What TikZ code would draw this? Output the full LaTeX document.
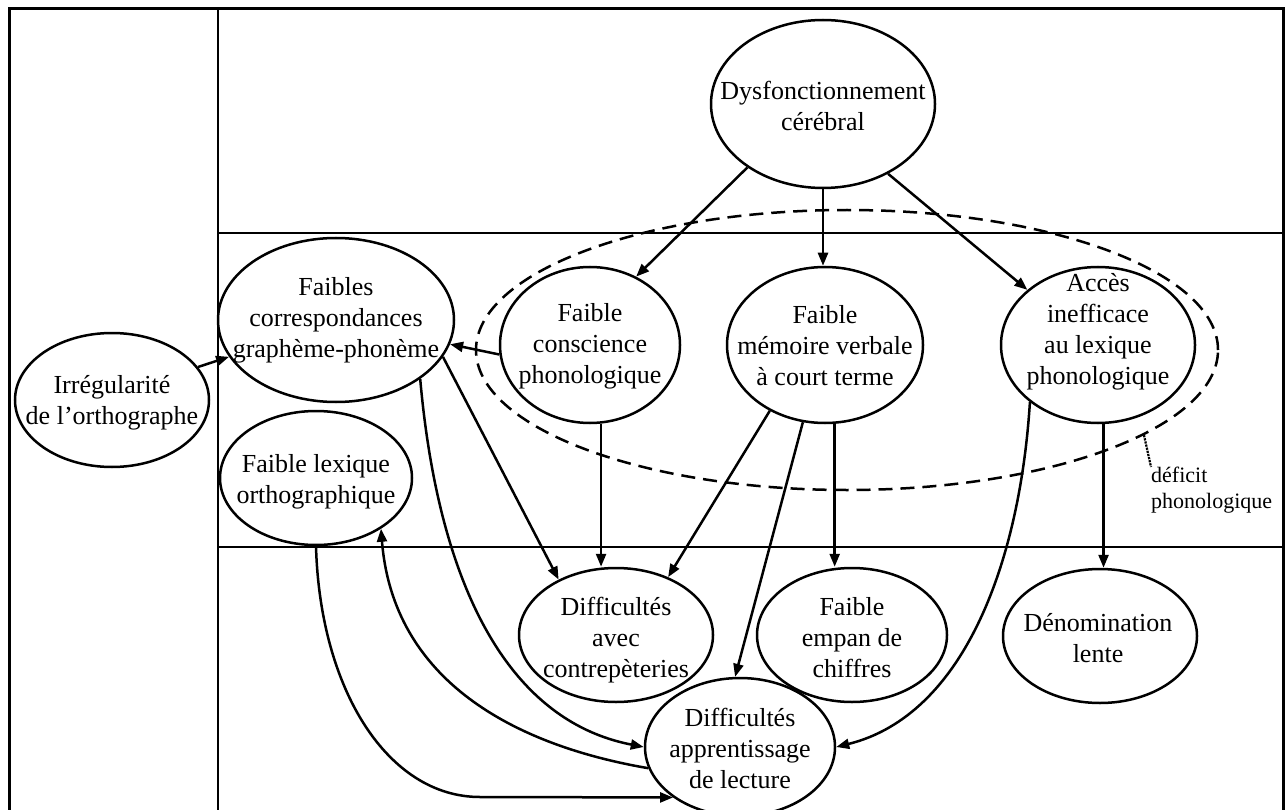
\documentclass[tikz,border=0pt]{standalone}
\usepackage{fontspec}
\setmainfont{Liberation Serif}
\usetikzlibrary{arrows.meta,shapes.geometric}
\begin{document}
\begin{tikzpicture}[x=1pt,y=-1pt,
  ell/.style={draw, ellipse, line width=2.5pt, inner sep=0pt},
  lbl/.style={align=center, font=\fontsize{26}{31}\selectfont, inner sep=0pt},
  arr/.style={line width=2.5pt, -{Triangle[length=13pt,width=10pt]}},
  frame/.style={line width=2.2pt}]
\useasboundingbox (0,0) rectangle (1287,810);

% frame and bands
\draw[line width=3pt] (9,812) -- (9,9) -- (1283,9) -- (1283,812);
\draw[frame] (218,9) -- (218,812);
\draw[frame] (218,233) -- (1283,233);
\draw[frame] (218,547) -- (1283,547);

% bubbles
\node[ell, minimum width=224pt, minimum height=168pt] (dys) at (823,104) {};
\node[lbl] at (823,106) {Dysfonctionnement\\cérébral};

\node[ell, minimum width=194pt, minimum height=134pt] (irr) at (112,400) {};
\node[lbl] at (112,403) {Irrégularité\\de l’orthographe};

\node[ell, minimum width=236pt, minimum height=164pt] (cor) at (336,320) {};
\node[lbl] at (336,320) {Faibles\\correspondances\\graphème-phonème};

\node[ell, minimum width=192pt, minimum height=134pt] (lex) at (316,478) {};
\node[lbl] at (316,482) {Faible lexique\\orthographique};

\node[ell, minimum width=180pt, minimum height=156pt] (con) at (590,345) {};
\node[lbl] at (590,346) {Faible\\conscience\\phonologique};

\node[ell, minimum width=196pt, minimum height=156pt] (mem) at (825,345) {};
\node[lbl] at (825,346) {Faible\\mémoire verbale\\à court terme};

\node[ell, minimum width=194pt, minimum height=156pt] (acc) at (1098,345) {};
\node[lbl] at (1098,332) {Accès\\inefficace\\au lexique\\phonologique};

\node[ell, minimum width=194pt, minimum height=134pt] (avec) at (616,635) {};
\node[lbl] at (616,640) {Difficultés\\avec\\contrepèteries};

\node[ell, minimum width=190pt, minimum height=134pt] (emp) at (852,635) {};
\node[lbl] at (852,638) {Faible\\empan de\\chiffres};

\node[ell, minimum width=194pt, minimum height=134pt] (den) at (1100,636) {};
\node[lbl] at (1098,638) {Dénomination\\lente};

\node[ell, minimum width=190pt, minimum height=138pt] (app) at (740,747) {};
\node[lbl] at (740,748) {Difficultés\\apprentissage\\de lecture};

% phonological deficit grouping
\node[draw, ellipse, dash pattern=on 14pt off 8pt, line width=2.5pt,
      minimum width=742pt, minimum height=280pt, inner sep=0pt] (grp) at (847,350) {};
\node[align=left, anchor=north west, font=\fontsize{22}{26}\selectfont, inner sep=0pt]
      (dp) at (1151,467) {déficit\\phonologique};
\draw[densely dotted, line width=2.2pt] (grp.-16.6) -- (dp.north west);

% causal links
\draw[arr] (dys.220) -- (con.56);
\draw[arr] (dys.south) -- (dys.south |- mem.north);
\draw[arr] (dys.-47) -- (acc.142);
\draw[arr] (con.186) -- (cor.-12);
\draw[arr] (irr.21) -- (cor.199);
\draw[arr] (cor.-19) -- (avec.136);
\draw[arr] (con.-82) -- (con.-82 |- avec.north);
\draw[arr] (mem.230) -- (avec.48);
\draw[arr] (mem.254) -- (app.94);
\draw[arr] (mem.-83) -- (mem.-83 |- emp.north);
\draw[arr] (acc.-86) -- (acc.-86 |- den.north);
\draw[arr] (acc.220) .. controls (1020,560) and (965,715) .. (app.east);
\draw[arr] (cor.-35) .. controls (438,580) and (505,720) .. (app.west);
\draw[arr] (app.193) .. controls (513,745) and (393,680) .. (lex.-38);
\draw[arr] (lex.south) .. controls (320,690) and (388,797) .. (480,797) -- (app.217);
\end{tikzpicture}
\end{document}
